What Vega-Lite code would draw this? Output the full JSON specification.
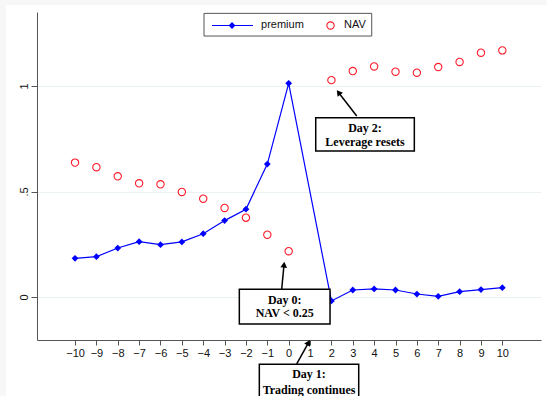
{
  "$schema": "https://vega.github.io/schema/vega-lite/v6.json",
  "width": 504,
  "height": 328,
  "autosize": {"type": "none"},
  "padding": {"left": 37, "top": 12, "right": 6, "bottom": 56},
  "background": "white",
  "config": {
    "view": {"stroke": null},
    "axis": {
      "domainColor": "#555555",
      "tickColor": "#555555",
      "labelColor": "#111111",
      "labelFont": "Liberation Sans",
      "labelFontSize": 11,
      "gridColor": "#e9f1f1",
      "gridWidth": 1
    }
  },
  "datasets": {
    "series": [
      {"day": -10, "premium": 0.183, "nav": 0.637},
      {"day": -9, "premium": 0.191, "nav": 0.615},
      {"day": -8, "premium": 0.232, "nav": 0.572},
      {"day": -7, "premium": 0.262, "nav": 0.539},
      {"day": -6, "premium": 0.248, "nav": 0.534},
      {"day": -5, "premium": 0.261, "nav": 0.498},
      {"day": -4, "premium": 0.300, "nav": 0.466},
      {"day": -3, "premium": 0.362, "nav": 0.422},
      {"day": -2, "premium": 0.416, "nav": 0.376},
      {"day": -1, "premium": 0.630, "nav": 0.295},
      {"day": 0, "premium": 1.013, "nav": 0.217},
      {"day": 2, "premium": -0.019, "nav": 1.028},
      {"day": 3, "premium": 0.033, "nav": 1.071},
      {"day": 4, "premium": 0.038, "nav": 1.093},
      {"day": 5, "premium": 0.033, "nav": 1.068},
      {"day": 6, "premium": 0.014, "nav": 1.063},
      {"day": 7, "premium": 0.003, "nav": 1.090},
      {"day": 8, "premium": 0.025, "nav": 1.114},
      {"day": 9, "premium": 0.035, "nav": 1.158},
      {"day": 10, "premium": 0.044, "nav": 1.169}
    ]
  },
  "layer": [
    {
      "data": {"name": "series"},
      "mark": {"type": "line", "color": "#0000ff", "strokeWidth": 1.2},
      "encoding": {
        "x": {"field": "day", "type": "quantitative", "title": null, "scale": {"domain": [-11.78, 11.81], "nice": false, "zero": false},
              "axis": {"title": null, "values": [-10,-9,-8,-7,-6,-5,-4,-3,-2,-1,0,1,2,3,4,5,6,7,8,9,10], "tickCount": 21, "format": "d", "grid": false, "tickSize": 5, "labelPadding": 2, "labelFlush": false, "labelOverlap": false}},
        "y": {"field": "premium", "type": "quantitative", "title": null, "scale": {"domain": [-0.204, 1.351], "nice": false, "zero": false},
              "axis": {"title": null, "values": [0, 0.5, 1], "labelExpr": "datum.value == 0 ? '0' : (datum.value == 1 ? '1' : '.5')", "grid": true, "tickSize": 6, "labelAngle": -90, "labelAlign": "center", "labelBaseline": "alphabetic", "labelPadding": 4, "labelFlush": false}}
      }
    },
    {
      "data": {"name": "series"},
      "mark": {"type": "point", "shape": "diamond", "filled": true, "color": "#0000ff", "size": 46, "opacity": 1},
      "encoding": {
        "x": {"field": "day", "type": "quantitative", "title": null},
        "y": {"field": "premium", "type": "quantitative", "title": null}
      }
    },
    {
      "data": {"name": "series"},
      "mark": {"type": "point", "shape": "circle", "filled": false, "color": "#ff1a2a", "size": 54, "strokeWidth": 1.1, "opacity": 1},
      "encoding": {
        "x": {"field": "day", "type": "quantitative", "title": null},
        "y": {"field": "nav", "type": "quantitative", "title": null}
      }
    },
    {
      "data": {"values": [{}]},
      "mark": {"type": "rect", "fill": "#f7f7f7"},
      "encoding": {
        "x": {"datum": -14, "type": "quantitative", "title": null},
        "x2": {"datum": 13},
        "y": {"datum": 1.45, "type": "quantitative", "title": null},
        "y2": {"datum": 1.384}
      }
    },
    {
      "data": {"values": [{}]},
      "mark": {"type": "rect", "fill": "#f7f7f7"},
      "encoding": {
        "x": {"datum": -14, "type": "quantitative", "title": null},
        "x2": {"datum": -13.23},
        "y": {"datum": 1.45, "type": "quantitative", "title": null},
        "y2": {"datum": -0.6}
      }
    },
    {
      "data": {"values": [{}]},
      "mark": {"type": "rect", "fill": "white", "stroke": "#555555", "strokeWidth": 1},
      "encoding": {
        "x": {"datum": -3.963, "type": "quantitative", "title": null},
        "x2": {"datum": 3.887},
        "y": {"datum": 1.3445, "type": "quantitative", "title": null},
        "y2": {"datum": 1.237}
      }
    },
    {
      "data": {"values": [{}]},
      "mark": {"type": "rule", "color": "#0000ff", "strokeWidth": 1.2},
      "encoding": {
        "x": {"datum": -3.588, "type": "quantitative", "title": null},
        "x2": {"datum": -1.669},
        "y": {"datum": 1.287, "type": "quantitative", "title": null}
      }
    },
    {
      "data": {"values": [{}]},
      "mark": {"type": "point", "shape": "diamond", "filled": true, "color": "#0000ff", "size": 46, "opacity": 1},
      "encoding": {
        "x": {"datum": -2.652, "type": "quantitative", "title": null},
        "y": {"datum": 1.287, "type": "quantitative", "title": null}
      }
    },
    {
      "data": {"values": [{}]},
      "mark": {"type": "point", "shape": "circle", "filled": false, "color": "#ff1a2a", "size": 54, "strokeWidth": 1.1, "opacity": 1},
      "encoding": {
        "x": {"datum": 1.959, "type": "quantitative", "title": null},
        "y": {"datum": 1.287, "type": "quantitative", "title": null}
      }
    },
    {
      "data": {"values": [{"label": "premium", "lx": -1.295}, {"label": "NAV", "lx": 2.59}]},
      "mark": {"type": "text", "align": "left", "baseline": "middle", "font": "Liberation Sans", "fontSize": 11, "color": "#111111"},
      "encoding": {
        "x": {"field": "lx", "type": "quantitative", "title": null},
        "y": {"datum": 1.287, "type": "quantitative", "title": null},
        "text": {"field": "label"}
      }
    },
    {
      "data": {"values": [{"ax": 3.185, "ay": 0.858, "bx": 2.333, "by": 0.9697}, {"ax": -0.326, "ay": 0.0379, "bx": -0.218, "by": 0.1531}, {"ax": 0.376, "ay": -0.3176, "bx": 0.929, "by": -0.216}]},
      "mark": {"type": "rule", "color": "black", "strokeWidth": 1.5},
      "encoding": {
        "x": {"field": "ax", "type": "quantitative", "title": null},
        "x2": {"field": "bx"},
        "y": {"field": "ay", "type": "quantitative", "title": null},
        "y2": {"field": "by"}
      }
    },
    {
      "data": {"values": [{"x0": 1.266, "x1": 5.881, "y0": 0.8498, "y1": 0.6919}, {"x0": -2.31, "x1": 1.935, "y0": 0.0365, "y1": -0.128}, {"x0": -1.374, "x1": 3.278, "y0": -0.319, "y1": -0.49}]},
      "mark": {"type": "rect", "fill": "white", "stroke": "black", "strokeWidth": 1.5},
      "encoding": {
        "x": {"field": "x0", "type": "quantitative", "title": null},
        "x2": {"field": "x1"},
        "y": {"field": "y0", "type": "quantitative", "title": null},
        "y2": {"field": "y1"}
      }
    },
    {
      "data": {"values": [{"hx": 2.333, "hy": 0.9697, "ang": 322.4}, {"hx": -0.218, "hy": 0.1531, "ang": 5.4}, {"hx": 0.929, "hy": -0.216, "ang": 29}]},
      "mark": {"type": "point", "shape": "triangle-up", "filled": true, "color": "black", "size": 45, "opacity": 1},
      "encoding": {
        "x": {"field": "hx", "type": "quantitative", "title": null},
        "y": {"field": "hy", "type": "quantitative", "title": null},
        "angle": {"field": "ang", "type": "quantitative", "scale": null}
      }
    },
    {
      "data": {"values": [
        {"t": "Day 2:", "tx": 3.573, "ty": 0.801},
        {"t": "Leverage resets", "tx": 3.573, "ty": 0.7346},
        {"t": "Day 0:", "tx": -0.185, "ty": -0.0142},
        {"t": "NAV < 0.25", "tx": -0.185, "ty": -0.0773},
        {"t": "Day 1:", "tx": 0.952, "ty": -0.3649},
        {"t": "Trading continues", "tx": 0.952, "ty": -0.4408}
      ]},
      "mark": {"type": "text", "align": "center", "baseline": "middle", "font": "Liberation Serif", "fontWeight": "bold", "fontSize": 12, "color": "black"},
      "encoding": {
        "x": {"field": "tx", "type": "quantitative", "title": null},
        "y": {"field": "ty", "type": "quantitative", "title": null},
        "text": {"field": "t"}
      }
    }
  ]
}
